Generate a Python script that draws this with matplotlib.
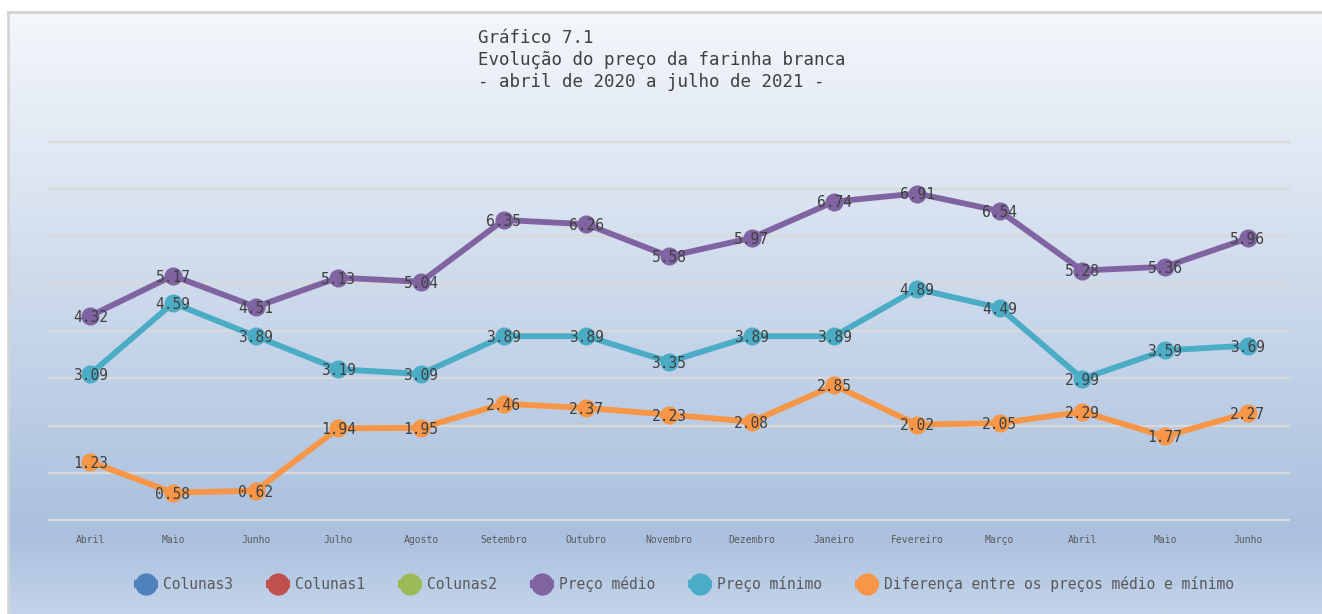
import numpy as np
import matplotlib
matplotlib.use("Agg")
import matplotlib.pyplot as plt
from matplotlib.colors import LinearSegmentedColormap

plt.rcParams['font.family'] = ['DejaVu Sans Mono']

meses = ['Abril', 'Maio', 'Junho', 'Julho', 'Agosto', 'Setembro', 'Outubro',
         'Novembro', 'Dezembro', 'Janeiro', 'Fevereiro', 'Março', 'Abril',
         'Maio', 'Junho']
preco_medio = [4.32, 5.17, 4.51, 5.13, 5.04, 6.35, 6.26, 5.58, 5.97, 6.74,
               6.91, 6.54, 5.28, 5.36, 5.96]
preco_minimo = [3.09, 4.59, 3.89, 3.19, 3.09, 3.89, 3.89, 3.35, 3.89, 3.89,
                4.89, 4.49, 2.99, 3.59, 3.69]
diferenca = [1.23, 0.58, 0.62, 1.94, 1.95, 2.46, 2.37, 2.23, 2.08, 2.85,
             2.02, 2.05, 2.29, 1.77, 2.27]

W, H = 1322, 614
fig = plt.figure(figsize=(W / 100, H / 100), dpi=100, facecolor='white')

# gradient background of the chart area (starts at x=8, y=12)
bg = fig.add_axes([8 / W, 0, 1 - 8 / W, (H - 12) / H])
grad = LinearSegmentedColormap.from_list(
    'bg', [(0.0, (244/255, 247/255, 251/255)),
           (0.87, (170/255, 192/255, 222/255)),
           (1.0, (196/255, 212/255, 234/255))])
bg.imshow(np.linspace(0, 1, 256).reshape(-1, 1), aspect='auto', cmap=grad,
          extent=[0, 1, 1, 0])
bg.set_xlim(0, 1)
bg.set_ylim(1, 0)
bg.set_xticks([])
bg.set_yticks([])
for s in ['right', 'bottom']:
    bg.spines[s].set_visible(False)
for s in ['left', 'top']:
    bg.spines[s].set_color('#d4d4d4')
    bg.spines[s].set_linewidth(2)

# plot area: x from 49 to 1289, y value 0 at 520 and 8 at 142
ax = fig.add_axes([49 / W, (H - 520) / H, 1240 / W, 378 / H])
ax.patch.set_alpha(0)
x = np.arange(len(meses))
ax.set_xlim(-0.5, len(meses) - 0.5)
ax.set_ylim(0, 8)
for v in range(0, 9):
    ax.axhline(v, color='#d9d9d9', lw=1.6, zorder=1, clip_on=False)
for s in ax.spines.values():
    s.set_visible(False)
ax.set_yticks([])
ax.set_xticks(x)
ax.set_xticklabels(meses, fontsize=7, color='#595959')
ax.tick_params(axis='x', length=0, pad=11)

for lab, c in [('Colunas3', '#4F81BD'), ('Colunas1', '#C0504D'), ('Colunas2', '#9BBB59')]:
    ax.plot([], [], color=c, lw=4.2, marker='o', ms=12, label=lab)

series = [('Preço médio', preco_medio, '#8064A2'),
          ('Preço mínimo', preco_minimo, '#4BACC6'),
          ('Diferença entre os preços médio e mínimo', diferenca, '#F79646')]
for lab, vals, c in series:
    ax.plot(x, vals, color=c, lw=4.2, marker='o', ms=12, label=lab,
            solid_capstyle='round', zorder=3)
    for xi, v in zip(x, vals):
        ax.text(xi, v - 0.03, f'{v:.2f}', ha='center', va='center',
                fontsize=10.5, color='#404040', zorder=4)

leg = fig.legend(loc='center', bbox_to_anchor=(684 / W, (H - 584) / H),
                 ncol=6, frameon=False, fontsize=10.5, handlelength=1.65,
                 handletextpad=0.3, columnspacing=2.3, borderpad=0,
                 markerscale=1.25)
for t in leg.get_texts():
    t.set_color('#595959')
for ln in leg.get_lines():
    ln.set_linewidth(6)
    ln.set_solid_capstyle('butt')

titulo = ['Gráfico 7.1', 'Evolução do preço da farinha branca',
          '- abril de 2020 a julho de 2021 -']
for i, linha in enumerate(titulo):
    fig.text(478 / W, (H - 38 - 22 * i) / H, linha, ha='left', va='center',
             fontsize=12.6, color='#404040')

fig.savefig('out.png', dpi=100, facecolor='white')
